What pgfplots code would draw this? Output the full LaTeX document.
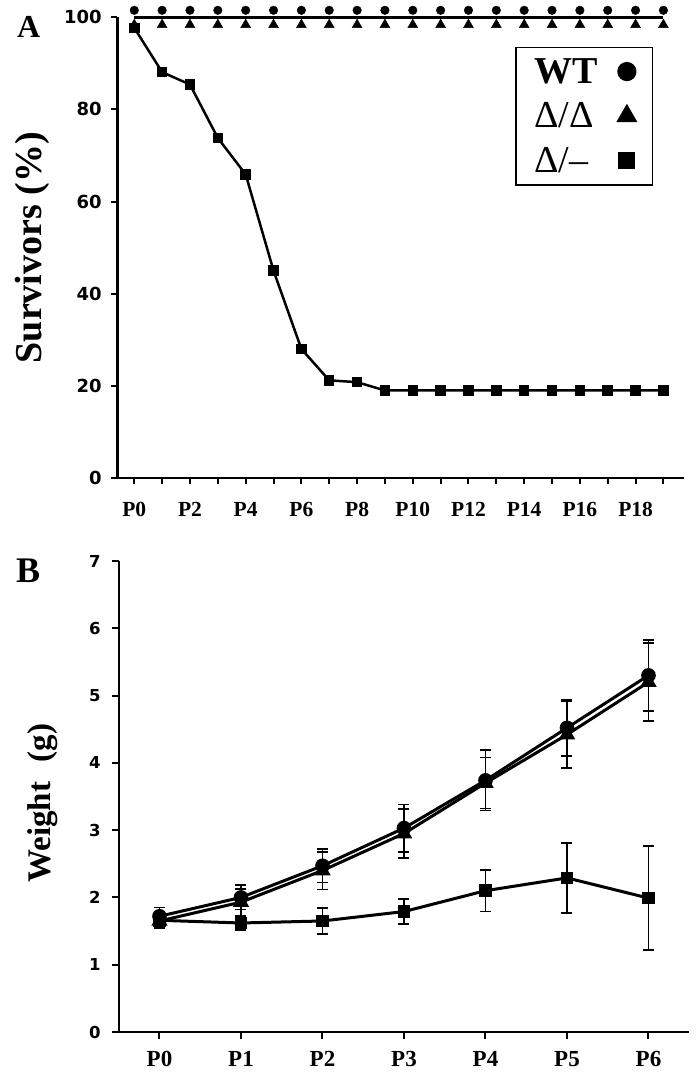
\documentclass[border=0pt]{standalone}
\usepackage{pgfplots}
\pgfplotsset{compat=1.18}
\usepackage{fontspec}
\setmainfont{Liberation Serif}
\newfontfamily\verd{DejaVu Sans}

\pgfplotstableread{
x y
0 97.7
1 88.1
2 85.4
3 73.8
4 65.9
5 45.0
6 28.0
7 21.2
8 20.8
9 19.0
10 19.0
11 19.0
12 19.0
13 19.0
14 19.0
15 19.0
16 19.0
17 19.0
18 19.0
19 19.0
}\survKO

\pgfplotstableread{
x y
0 100
1 100
2 100
3 100
4 100
5 100
6 100
7 100
8 100
9 100
10 100
11 100
12 100
13 100
14 100
15 100
16 100
17 100
18 100
19 100
}\survWT

\pgfplotstableread{
x y e
0 1.72 0.13
1 2.00 0.18
2 2.47 0.25
3 3.03 0.35
4 3.74 0.45
5 4.52 0.42
6 5.30 0.53
}\wWT

\pgfplotstableread{
x y e
0 1.65 0.10
1 1.93 0.20
2 2.40 0.28
3 2.95 0.36
4 3.70 0.38
5 4.42 0.50
6 5.20 0.58
}\wDD

\pgfplotstableread{
x y e
0 1.66 0.12
1 1.62 0.10
2 1.65 0.19
3 1.79 0.19
4 2.10 0.31
5 2.29 0.52
6 1.99 0.77
}\wKO

\begin{document}
\begin{tikzpicture}
\useasboundingbox (0pt,0pt) rectangle (696pt,1077pt);

% Panel A
\begin{axis}[
  at={(117.3pt,599pt)}, anchor=south west,
  scale only axis, width=567pt, height=460.7pt,
  xmin=-0.61, xmax=19.75, ymin=0, ymax=100,
  axis lines*=left,
  axis line style={line width=2.5pt},
  tick align=outside,
  major tick length=6.5pt,
  xtick={0,...,19},
  xticklabels={P0,,P2,,P4,,P6,,P8,,P10,,P12,,P14,,P16,,P18,},
  ytick={0,20,40,60,80,100},
  tick style={line width=2pt, black},
  xticklabel style={font=\bfseries\fontsize{21.5}{21.5}\selectfont, anchor=north, inner sep=0pt, yshift=-18pt},
  yticklabel style={font=\verd\bfseries\fontsize{18}{18}\selectfont, anchor=east, inner sep=0pt, xshift=-9pt},
  /pgf/number format/assume math mode=true,
  ylabel={Survivors (\%)},
  ylabel style={font=\bfseries\fontsize{38}{38}\selectfont, at={(axis description cs:-0.1504,0.5)}, anchor=center},
  clip=false,
  legend plot pos=right,
  legend cell align=left,
  legend style={at={(0.9448,0.936)}, anchor=north east, draw=black, line width=1.2pt,
    font=\fontsize{38}{38}\selectfont, row sep=14pt, inner xsep=16pt, inner ysep=9pt,
    /tikz/every odd column/.append style={column sep=18pt}},
]
\addlegendimage{only marks, mark=*, mark size=9pt, black}
\addlegendentry{\textbf{WT}}
\addlegendimage{only marks, mark=triangle*, mark size=11pt, black}
\addlegendentry{Δ/Δ}
\addlegendimage{only marks, mark=square*, mark size=8pt, black}
\addlegendentry{Δ/–}

\addplot[forget plot, black, line width=2.5pt, no marks] table[x=x,y=y] {\survWT};
\addplot[forget plot, black, only marks, mark=*, mark size=4.3pt, mark options={yshift=7pt}] table[x=x,y=y] {\survWT};
\addplot[forget plot, black, only marks, mark=triangle*, mark size=5.7pt, mark options={yshift=-7.5pt}] table[x=x,y=y] {\survWT};
\addplot[forget plot, black, line width=2.5pt, mark=square*, mark size=4pt] table[x=x,y=y] {\survKO};
\end{axis}

% Panel B
\begin{axis}[
  at={(118.75pt,45pt)}, anchor=south west,
  scale only axis, width=570.5pt, height=471pt,
  xmin=-0.5, xmax=6.5, ymin=0, ymax=7,
  axis lines*=left,
  axis line style={line width=2.5pt},
  tick align=outside,
  major tick length=7pt,
  xtick={0,...,6},
  xticklabels={P0,P1,P2,P3,P4,P5,P6},
  ytick={0,1,...,7},
  tick style={line width=2pt, black},
  xticklabel style={font=\bfseries\fontsize{23}{23}\selectfont, anchor=north, inner sep=0pt, yshift=-12pt},
  yticklabel style={font=\verd\bfseries\fontsize{16.5}{16.5}\selectfont, anchor=east, inner sep=0pt, xshift=-11pt},
  /pgf/number format/assume math mode=true,
  ylabel={Weight\hspace{0.6em}(g)},
  ylabel style={font=\bfseries\fontsize{33}{33}\selectfont, at={(axis description cs:-0.1328,0.486)}, anchor=center},
  clip=false,
  error bars/error mark options={rotate=90, line width=1.7pt, mark size=5.5pt, black},
]
\addplot[black, line width=3pt, mark=*, mark size=5.8pt,
  error bars/.cd, y dir=both, y explicit,
  error bar style={line width=1.7pt, black}]
  table[x=x,y=y,y error=e] {\wWT};
\addplot[black, line width=3pt, mark=triangle*, mark size=6.5pt,
  error bars/.cd, y dir=both, y explicit,
  error bar style={line width=1.7pt, black}]
  table[x=x,y=y,y error=e] {\wDD};
\addplot[black, line width=3pt, mark=square*, mark size=4.8pt,
  error bars/.cd, y dir=both, y explicit,
  error bar style={line width=1.7pt, black}]
  table[x=x,y=y,y error=e] {\wKO};
\end{axis}

\node[anchor=base west, inner sep=0pt, font=\bfseries\fontsize{32}{32}\selectfont] at (17pt,1039pt) {A};
\node[anchor=base west, inner sep=0pt, font=\bfseries\fontsize{36}{36}\selectfont] at (16pt,494pt) {B};
\end{tikzpicture}
\end{document}
